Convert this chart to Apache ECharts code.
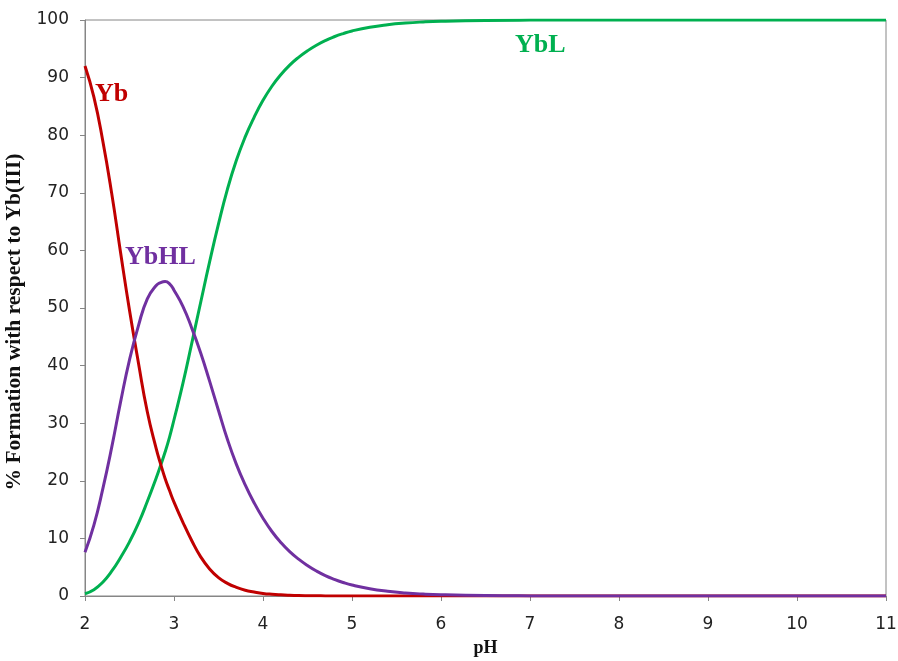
<!DOCTYPE html>
<html>
<head>
<meta charset="utf-8">
<script src="https://cdn.jsdelivr.net/npm/echarts@6/dist/echarts.min.js"></script>
<style>
html,body{margin:0;padding:0;background:#fff;}
#c{width:898px;height:661px;}
</style>
</head>
<body>
<div id="c"></div>
<script>
const pH = [2.0,2.1,2.2,2.3,2.4,2.5,2.6,2.7,2.8,2.85,2.9,2.95,3.0,3.1,3.2,3.3,3.4,3.5,3.6,3.7,3.8,3.9,4.0,4.1,4.2,4.3,4.4,4.5,4.6,4.7,4.8,4.9,5.0,5.2,5.4,5.6,5.8,6.0,6.5,7,8,9,10,11];
const yb   = [92.0,86.6,79.0,69.9,59.6,49.6,40.5,32.0,25.6,22.9,20.4,18.3,16.3,12.8,9.6,6.8,4.7,3.2,2.2,1.5,1.0,0.7,0.45,0.3,0.2,0.13,0.08,0.05,0.03,0.02,0.01,0.01,0,0,0,0,0,0,0,0,0,0,0,0];
const ybhl = [7.6,12.3,18.6,25.8,33.7,41.0,46.9,51.6,53.9,54.4,54.6,54.2,53.1,50.3,46.5,42.2,37.3,32.2,27.2,22.9,19.3,16.2,13.5,11.2,9.3,7.7,6.4,5.3,4.35,3.55,2.9,2.35,1.9,1.25,0.82,0.53,0.34,0.22,0.07,0.02,0,0,0,0];
const ybl  = [0.4,1.1,2.4,4.3,6.7,9.4,12.6,16.4,20.5,22.7,25.0,27.6,30.6,36.9,43.9,51.0,58.0,64.6,70.6,75.6,79.7,83.1,86.05,88.5,90.5,92.17,93.52,94.65,95.62,96.43,97.09,97.64,98.1,98.75,99.18,99.47,99.66,99.78,99.93,99.98,100,100,100,100];
const xTicks = [2,3,4,5,6,7,8,9,10,11];
const yTicks = [0,10,20,30,40,50,60,70,80,90,100];
const seriesNames = ['Yb','YbHL','YbL'];

function pairs(v){ return pH.map((x,i)=>[x,v[i]]); }

const chart = echarts.init(document.getElementById('c'));
const axisCol = '#868686';
const serif = '"Liberation Serif","Times New Roman",serif';
chart.setOption({
  animation:false,
  grid:{left:85,right:12,top:20,bottom:65,show:true,borderColor:axisCol,borderWidth:1,containLabel:false,outerBoundsMode:'none'},
  xAxis:{type:'value',min:xTicks[0],max:xTicks[xTicks.length-1],interval:1,
    name:'pH',nameLocation:'middle',nameGap:43,
    nameTextStyle:{fontFamily:serif,fontWeight:'bold',fontSize:18,color:'#111'},
    axisLine:{lineStyle:{color:axisCol}},axisTick:{length:5,lineStyle:{color:axisCol}},
    axisLabel:{fontFamily:'DejaVu Sans',fontSize:17,color:'#222',margin:20},
    splitLine:{show:false}},
  yAxis:{type:'value',min:yTicks[0],max:yTicks[yTicks.length-1],interval:10,
    name:'% Formation with respect to Yb(III)',nameLocation:'middle',nameGap:53,nameRotate:90,
    nameTextStyle:{fontFamily:serif,fontWeight:'bold',fontSize:21.5,color:'#111',padding:[0,28,0,0]},
    axisLine:{show:true,lineStyle:{color:axisCol}},axisTick:{show:true,length:5,lineStyle:{color:axisCol}},
    axisLabel:{fontFamily:'DejaVu Sans',fontSize:17,color:'#222',margin:16},
    splitLine:{show:false}},
  series:[
    {name:seriesNames[0],type:'line',data:pairs(yb),smooth:true,showSymbol:false,lineStyle:{color:'#C00000',width:3},z:3},
    {name:seriesNames[1],type:'line',data:pairs(ybhl),smooth:true,showSymbol:false,lineStyle:{color:'#7030A0',width:3},z:4},
    {name:seriesNames[2],type:'line',data:pairs(ybl),smooth:true,showSymbol:false,lineStyle:{color:'#00B050',width:3},z:2}
  ],
  graphic:[
    {type:'text',left:95,top:81,style:{text:seriesNames[0],fontFamily:serif,fontWeight:'bold',fontSize:26,fill:'#C00000'}},
    {type:'text',left:125,top:244,style:{text:seriesNames[1],fontFamily:serif,fontWeight:'bold',fontSize:26,fill:'#7030A0'}},
    {type:'text',left:515,top:32,style:{text:seriesNames[2],fontFamily:serif,fontWeight:'bold',fontSize:26,fill:'#00B050'}}
  ]
});
</script>
</body>
</html>
